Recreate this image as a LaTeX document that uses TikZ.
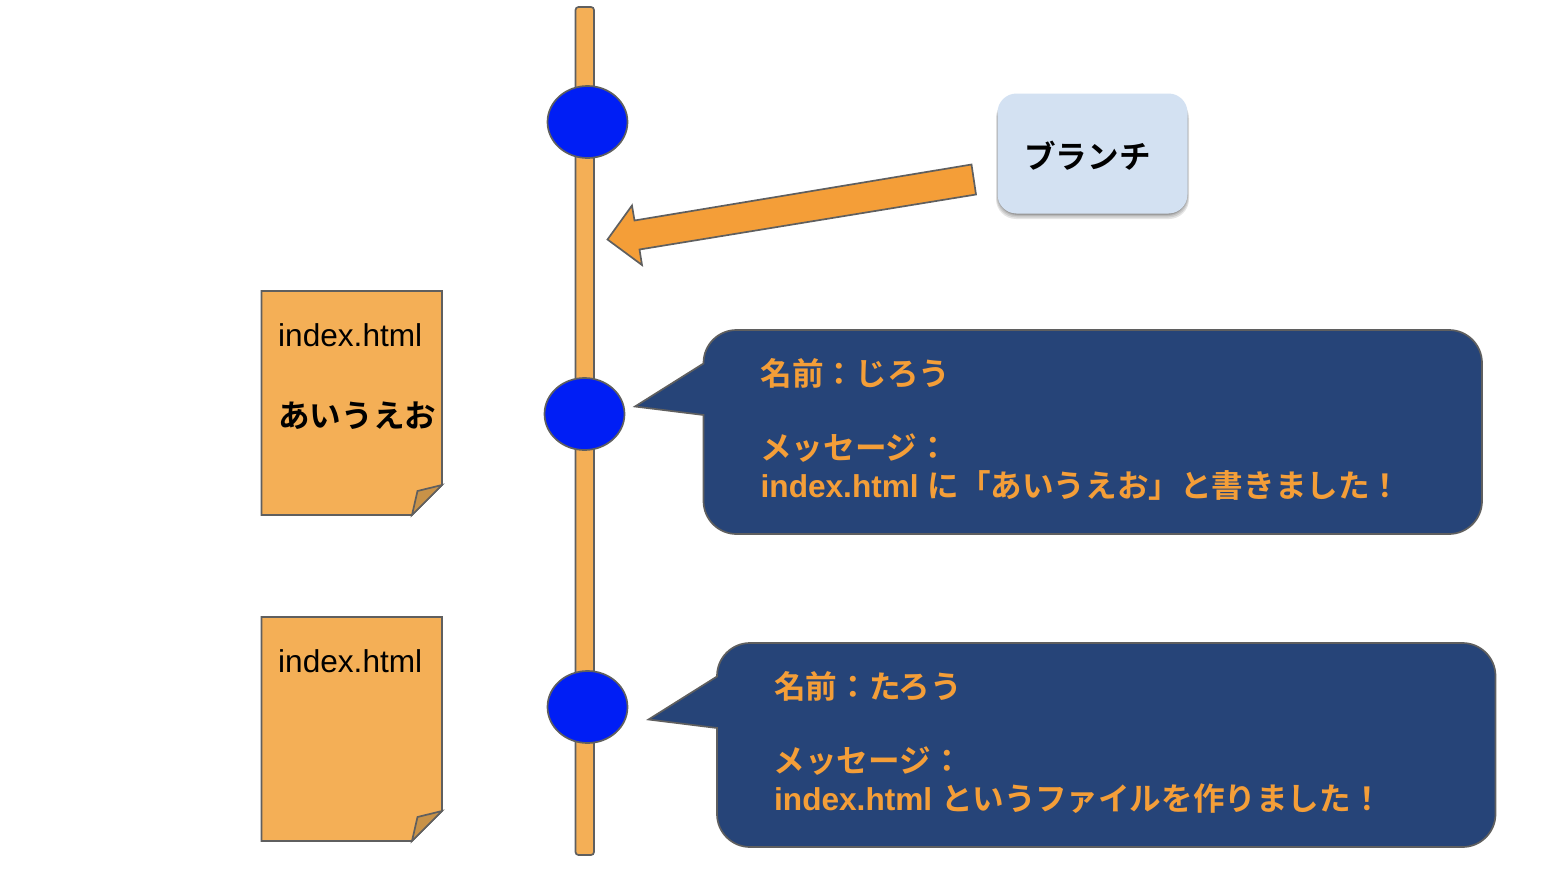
\documentclass[tikz,border=0pt]{standalone}
\usepackage{fontspec}
\setmainfont{Liberation Sans}
\newfontfamily\jpfont[BoldFont={Noto Sans CJK JP Bold}]{Noto Sans CJK JP}
\newcommand{\jp}[1]{{\jpfont #1}}
\usetikzlibrary{shapes.geometric}
\definecolor{barfill}{HTML}{F4AF56}
\definecolor{foldfill}{HTML}{C89248}
\definecolor{arrowfill}{HTML}{F49E38}
\definecolor{edge}{HTML}{5F5F5F}
\definecolor{commitblue}{HTML}{001EF5}
\definecolor{bubblefill}{HTML}{264478}
\definecolor{branchfill}{HTML}{D3E1F2}
\tikzset{
  outline/.style={draw=edge, line width=1.7pt},
  commit/.style={outline, ellipse, fill=commitblue, minimum width=80pt, minimum height=72pt, inner sep=0pt},
  doctext/.style={anchor=base west, inner sep=0pt, font=\fontsize{31.6}{36}\selectfont},
  boldtext/.style={doctext, font=\fontsize{31.6}{36}\selectfont\bfseries},
  msgtext/.style={boldtext, text=arrowfill},
  softshadow/.style={fill=black, fill opacity=0.1, draw=none, rounded corners=20pt},
}

\begin{document}
\begin{tikzpicture}[x=1pt, y=-1pt]
    \useasboundingbox (0,0) rectangle (1558,870);
    % timeline
    \draw[outline, fill=barfill, rounded corners=3pt] (575.5,7) rectangle (594,855);
    \node[commit] (commitTop) at (587.5,122) {};
    \node[commit] (commitJiro) at (584.5,414) {};
    \node[commit] (commitTaro) at (587.5,707) {};
    % branch label and its arrow
    \draw[outline, fill=arrowfill] (607.5,239.5) -- (632,205.5) -- (634.5,220.5) -- (971.5,164.5)
        -- (976,194.5) -- (639.5,249.5) -- (642,265) -- cycle;
    \fill[softshadow] (996,98) rectangle (1189,219);
    \fill[softshadow] (996.5,98) rectangle (1188.5,217.5);
    \fill[softshadow] (997,98) rectangle (1188,216);
    \fill[softshadow] (997.5,98) rectangle (1187.5,215);
    \fill[softshadow] (997.5,98) rectangle (1187.5,214.5);
    \fill[branchfill, rounded corners=19pt] (997.5,93.5) rectangle (1187.5,213.5);
    \node[boldtext] (branchLabel) at (1024,168) {\jp{ブランチ}};
    % files
    \draw[outline, fill=barfill] (261.5,291) -- (442,291) -- (442,485) -- (412,515) -- (261.5,515) -- cycle;
    \draw[outline, fill=foldfill] (442,485) -- (417.5,491) -- (412,515) -- cycle;
    \node[doctext] (fileNew) at (278,346) {index.html};
    \node[boldtext] (fileNewBody) at (278,427) {\jp{あいうえお}};
    \draw[outline, fill=barfill] (261.5,617) -- (442,617) -- (442,811) -- (412,841) -- (261.5,841) -- cycle;
    \draw[outline, fill=foldfill] (442,811) -- (417.5,817) -- (412,841) -- cycle;
    \node[doctext] (fileOld) at (278,672) {index.html};
    % commit messages
    \draw[outline, fill=bubblefill] (703.5,363.5) -- (635,406.5) -- (703.5,415) -- (703.5,501)
        arc (180:90:33) -- (1449,534) arc (90:0:33) -- (1482,363) arc (0:-90:33)
        -- (736.5,330) arc (-90:-180:33) -- cycle;
    \node[msgtext] (nameJiro) at (760.5,385) {\jp{名前：じろう}};
    \node[msgtext] (titleJiro) at (760,459) {\jp{メッセージ：}};
    \node[msgtext] (bodyJiro) at (760.5,497) {index.html \jp{に「あいうえお」と書きました！}};
    \draw[outline, fill=bubblefill] (717,676.5) -- (648.5,719.5) -- (717,728) -- (717,814)
        arc (180:90:33) -- (1462.5,847) arc (90:0:33) -- (1495.5,676) arc (0:-90:33)
        -- (750,643) arc (-90:-180:33) -- cycle;
    \node[msgtext] (nameTaro) at (774,698) {\jp{名前：たろう}};
    \node[msgtext] (titleTaro) at (773.5,772) {\jp{メッセージ：}};
    \node[msgtext] (bodyTaro) at (774,810) {index.html \jp{というファイルを作りました！}};
\end{tikzpicture}
\end{document}
